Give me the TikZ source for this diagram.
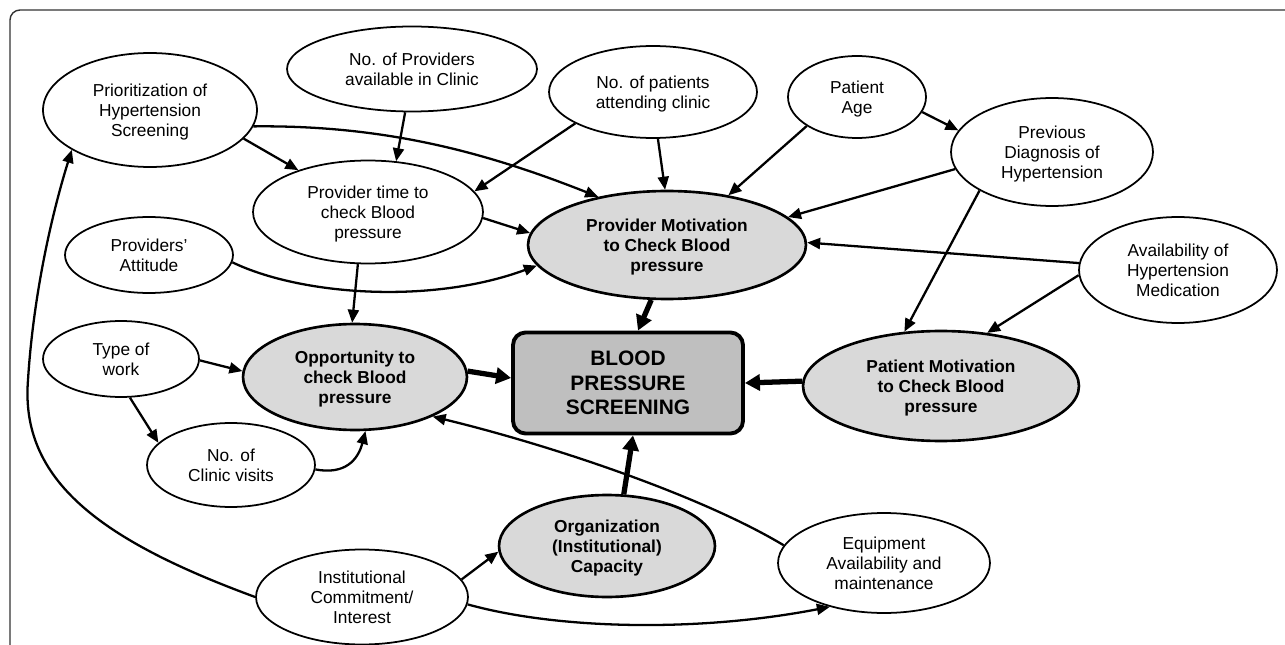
\documentclass[tikz,border=0pt]{standalone}
\usepackage{fontspec}
\setmainfont{Liberation Sans}
\usetikzlibrary{arrows.meta,shapes.geometric}
\tikzset{
  factor/.style={ellipse,draw,line width=1pt,inner sep=0pt,align=center,text depth=-3pt,font=\fontsize{9.85}{11.4}\selectfont},
  keyfactor/.style={factor,fill=black!15,line width=1.5pt,font=\fontsize{9.85}{11.4}\selectfont\bfseries},
  outcome/.style={rectangle,rounded corners=0.25cm,draw,line width=2.2pt,fill=black!25,align=center,font=\fontsize{11.9}{13.9}\selectfont\bfseries},
  link/.style={line width=1.3pt,-{Triangle[length=0.26cm,width=0.22cm]}},
  mainlink/.style={line width=3pt,-{Triangle[length=0.3cm,width=0.32cm]}}
}
\begin{document}
\begin{tikzpicture}[x=0.02cm,y=-0.02cm]
\useasboundingbox (0,0) rectangle (1285,645);
\draw[line width=0.8pt,black!80,rounded corners=0.2cm] (10,645) -- (10,10) -- (1285,10);
% factors
\node[factor,minimum width=4.28cm,minimum height=2.28cm] (prio) at (150,110) {Prioritization of\\Hypertension\\Screening};
\node[factor,minimum width=5cm,minimum height=1.7cm] (prov) at (412,69) {No. of Providers\\available in Clinic};
\node[factor,minimum width=4.16cm,minimum height=1.84cm] (pats) at (653,92) {No. of patients\\attending clinic};
\node[factor,minimum width=2.76cm,minimum height=1.64cm] (age) at (857,97) {Patient\\Age};
\node[factor,minimum width=4.04cm,minimum height=2.16cm] (diag) at (1052,152) {Previous\\Diagnosis of\\Hypertension};
\node[factor,minimum width=3.96cm,minimum height=2.12cm] (meds) at (1178,270) {Availability of\\Hypertension\\Medication};
\node[factor,minimum width=4.6cm,minimum height=2.06cm] (ptime) at (368,212) {Provider time to\\check Blood\\pressure};
\node[factor,minimum width=3.36cm,minimum height=1.52cm] (att) at (149,255) {Providers’\\Attitude};
\node[factor,minimum width=3.12cm,minimum height=1.52cm] (work) at (121,359) {Type of\\work};
\node[factor,minimum width=3.36cm,minimum height=1.68cm] (visits) at (231,465) {No. of\\Clinic visits};
\node[factor,minimum width=4.24cm,minimum height=1.9cm] (inst) at (362,597) {Institutional\\Commitment/\\Interest};
\node[factor,minimum width=4.24cm,minimum height=2cm] (equip) at (884,563) {Equipment\\Availability and\\maintenance};
% key factors and outcome
\node[keyfactor,minimum width=5.56cm,minimum height=2.16cm] (pmot) at (667,245) {Provider Motivation\\to Check Blood\\pressure};
\node[keyfactor,minimum width=4.48cm,minimum height=2.12cm] (opp) at (355,377) {Opportunity to\\check Blood\\pressure};
\node[keyfactor,minimum width=5.52cm,minimum height=2.2cm] (patmot) at (941,386) {Patient Motivation\\to Check Blood\\pressure};
\node[keyfactor,minimum width=4.32cm,minimum height=2.04cm] (org) at (607,546) {Organization\\(Institutional)\\Capacity};
\node[outcome,minimum width=4.6cm,minimum height=2.02cm] (bps) at (628,383) {BLOOD\\PRESSURE\\SCREENING};
% links
\draw[link] (prov.261) -- (ptime.61);
\draw[link] (prio.-17) -- (ptime.149);
\draw[link] (prio.-9) .. controls (380,125) and (480,150) .. (pmot.145);
\draw[link] (pats.202) -- (ptime.11);
\draw[link] (pats.276) -- (pmot.92);
\draw[link] (age.210) -- (pmot.39);
\draw[link] (age.-13) -- (diag.167);
\draw[link] (diag.190) -- (pmot.13);
\draw[link] (diag.208) -- (patmot.124);
\draw[link] (meds.176) -- (pmot.1);
\draw[link] (meds.183) -- (patmot.49);
\draw[link] (ptime.-3) -- (pmot.175);
\draw[link] (att.-5) .. controls (300,295) and (430,305) .. (pmot.189);
\draw[link] (ptime.259) -- (opp.93);
\draw[link] (work.-1) -- (opp.177);
\draw[link] (work.283) -- (visits.163);
\draw[link] (visits.-3) .. controls (345,475) and (358,460) .. (opp.281);
\draw[link] (equip.170) .. controls (700,495) and (550,445) .. (opp.333);
\draw[link] (inst.10) -- (org.183);
\draw[link] (inst.-4) .. controls (560,630) and (700,632) .. (equip.219);
\draw[link] (inst.west) .. controls (100,540) and (20,480) .. (28,380) .. controls (33,300) and (50,220) .. (prio.207);
% into the outcome
\draw[mainlink] (opp.3) -- ([yshift=0.1cm]bps.west);
\draw[mainlink] (pmot.254) -- ([xshift=0.2cm]bps.north);
\draw[mainlink] (patmot.178) -- (bps.east);
\draw[mainlink] (org.72) -- ([xshift=0.1cm]bps.south);
\end{tikzpicture}
\end{document}
